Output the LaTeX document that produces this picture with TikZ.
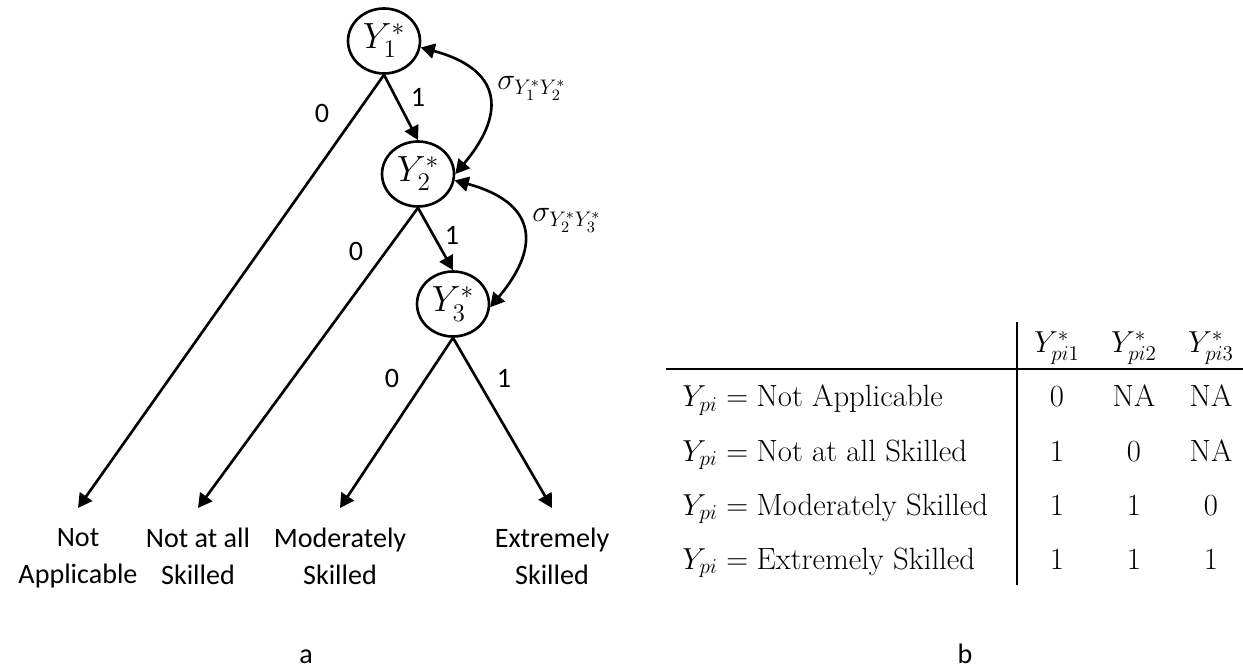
\documentclass[tikz,border=0pt]{standalone}
\usepackage{fontspec}
\newfontfamily\carlito{Carlito}
\usetikzlibrary{arrows.meta, shapes.geometric}

\tikzset{
  latent/.style={ellipse, draw, line width=1.5pt, minimum width=1.44cm, minimum height=1.3cm, inner sep=0pt, font=\fontsize{20}{22}\selectfont},
  branch/.style={-{Triangle[length=8pt,width=8.5pt]}, line width=1.5pt},
  corr/.style={{Triangle[length=8pt,width=8.5pt]}-{Triangle[length=8pt,width=8.5pt]}, line width=1.5pt, looseness=1.6},
  outcome/.style={anchor=north, align=center, inner xsep=0pt, inner ysep=0.4cm, font=\carlito\fontsize{16}{21}\selectfont},
  blab/.style={font=\carlito\fontsize{16}{19}\selectfont},
  cell/.style={anchor=base, inner sep=0pt, font=\fontsize{17.5}{20}\selectfont},
}

\begin{document}
\begin{tikzpicture}[x=0.02cm, y=-0.02cm]
  \useasboundingbox (0,0) rectangle (1243,668);
  % latent responses
  \node[latent] (y1) at (384,41) {$Y_1^*$};
  \node[latent] (y2) at (418,174) {$Y_2^*$};
  \node[latent] (y3) at (453,304) {$Y_3^*$};
  % observed categories
  \node[outcome] (na) at (78,508) {Not\\Applicable};
  \node[outcome] (nas) at (198,508) {Not at all\\Skilled};
  \node[outcome] (mod) at (340,508) {Moderately\\Skilled};
  \node[outcome] (ext) at (552,508) {Extremely\\Skilled};
  % branches
  \draw[branch] (y1.south) -- (na.north);
  \draw[branch] (y1.south) -- (y2.north);
  \draw[branch] (y2.south) -- (nas.north);
  \draw[branch] (y2.south) -- (y3.north);
  \draw[branch] (y3.south) -- (mod.north);
  \draw[branch] (y3.south) -- (ext.north);
  \node[blab] (l10) at (322,113) {0};
  \node[blab] (l11) at (418,97) {1};
  \node[blab] (l20) at (356,251) {0};
  \node[blab] (l21) at (452,235) {1};
  \node[blab] (l30) at (392,378) {0};
  \node[blab] (l31) at (504,378) {1};
  % correlations
  \draw[corr] (y1.-10) to[out=-15, in=50] (y2.east);
  \draw[corr] (y2.-10) to[out=-15, in=50] (y3.-5);
  \node[anchor=base west, inner sep=0pt, font=\fontsize{18}{20}\selectfont] (s12) at (497,90) {$\sigma_{Y_1^*Y_2^*}$};
  \node[anchor=base west, inner sep=0pt, font=\fontsize{18}{20}\selectfont] (s23) at (532,222) {$\sigma_{Y_2^*Y_3^*}$};
  % table
  \draw[line width=0.6pt] (1017,322) -- (1017,585);
  \draw[line width=0.6pt] (666,369) -- (1243,369);
  \node[cell] (h1) at (1057,353) {$Y^*_{pi1}$};
  \node[cell] (h2) at (1134,353) {$Y^*_{pi2}$};
  \node[cell] (h3) at (1211,353) {$Y^*_{pi3}$};
  \foreach \txt/\va/\vb/\vc [count=\r] in {Not Applicable/0/NA/NA, Not at all Skilled/1/0/NA, Moderately Skilled/1/1/0, Extremely Skilled/1/1/1} {
    \node[cell, anchor=base west] (r\r) at (682,{353+54*\r}) {$Y_{pi}={}$\txt};
    \node[cell] (r\r a) at (1057,{353+54*\r}) {\va};
    \node[cell] (r\r b) at (1134,{353+54*\r}) {\vb};
    \node[cell] (r\r c) at (1211,{353+54*\r}) {\vc};
  }
  % panel letters
  \node[blab, anchor=base, inner sep=0pt] (pa) at (306,663) {a};
  \node[blab, anchor=base, inner sep=0pt] (pb) at (965,663) {b};
\end{tikzpicture}
\end{document}
